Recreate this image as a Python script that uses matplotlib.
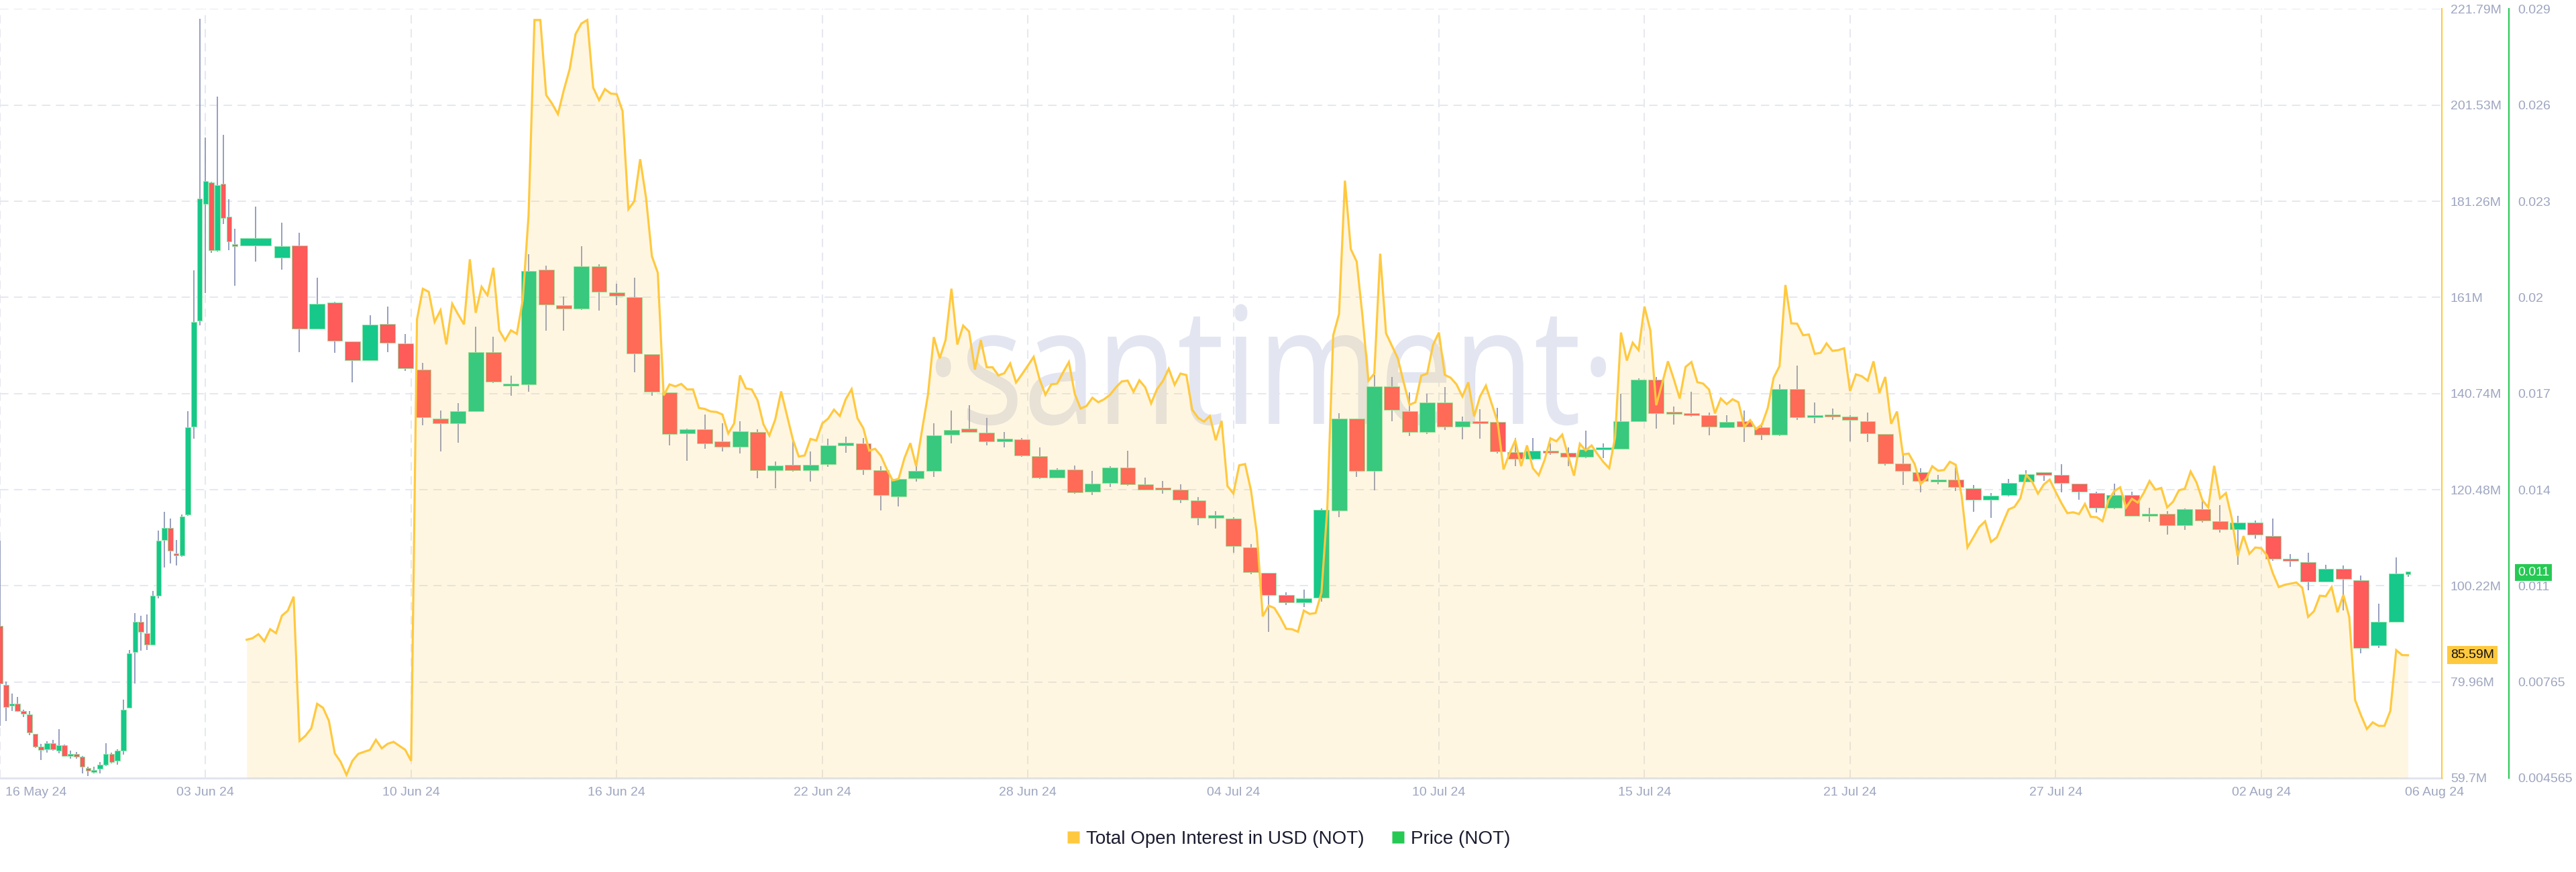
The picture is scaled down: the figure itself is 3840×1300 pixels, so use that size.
import numpy as np
import matplotlib
matplotlib.use("Agg")
import matplotlib.pyplot as plt
from matplotlib.font_manager import FontProperties
from matplotlib.lines import Line2D
from matplotlib.patches import PathPatch
from matplotlib.textpath import TextPath
from matplotlib.transforms import Affine2D, ScaledTranslation

plt.rcParams["font.family"] = ["Liberation Sans", "DejaVu Sans"]

# x axis = chart index of timestamps: one slot per 12h candle before the
# open interest feed starts, one slot per 4h OI point after it
x_ticks = np.arange(0, 386, 35)
x_labels = ["16 May 24", "03 Jun 24", "10 Jun 24", "16 Jun 24", "22 Jun 24", "28 Jun 24",
            "04 Jul 24", "10 Jul 24", "15 Jul 24", "21 Jul 24", "27 Jul 24", "02 Aug 24"]
x_end_slot = 414.5
x_end_label = "06 Aug 24"

oi_ticks = np.linspace(59.7, 221.79, 9)
oi_labels = ["59.7M", "79.96M", "100.22M", "120.48M", "140.74M", "161M", "181.26M", "201.53M", "221.79M"]
price_ticks = np.linspace(0.004565, 0.029, 9)
price_labels = ["0.004565", "0.00765", "0.011", "0.014", "0.017", "0.02", "0.023", "0.026", "0.029"]

# price candles (NOT)
candle_slot = np.concatenate([np.arange(41), [43.5], np.arange(48, 409, 3), [410]])
candle_span = np.concatenate([np.ones(41), [6], np.full(121, 3), [1]])

price_open = [
    0.009405, 0.007528, 0.006860, 0.006924, 0.006685, 0.006590, 0.005970, 0.005556, 0.005477, 0.005668,
    0.005429, 0.005604, 0.005270, 0.005286, 0.005238, 0.004888, 0.004761, 0.004856, 0.004984, 0.005334,
    0.005111, 0.005429, 0.006812, 0.008578, 0.009532, 0.009166, 0.008816, 0.010359, 0.012140, 0.012522,
    0.011695, 0.011631, 0.012936, 0.015735, 0.019091, 0.022797, 0.023497, 0.021334, 0.023449, 0.022399,
    0.021477, 0.021477,
    0.021095, 0.021493, 0.018837, 0.019679, 0.018439, 0.017834, 0.018995, 0.018375, 0.017548, 0.015990,
    0.015831, 0.016228, 0.018089, 0.017024, 0.017072, 0.020729, 0.019584, 0.019489, 0.020825, 0.019998,
    0.019855, 0.018025, 0.016817, 0.015513, 0.015640, 0.015258, 0.015099, 0.015560, 0.014336, 0.014511,
    0.014336, 0.014530, 0.015145, 0.015204, 0.014340, 0.013524, 0.014092, 0.014329, 0.015476, 0.015665,
    0.015547, 0.015263, 0.015322, 0.014790, 0.014116, 0.014364, 0.013655, 0.013950, 0.014423, 0.013903,
    0.013749, 0.013725, 0.013382, 0.012838, 0.012813, 0.011903, 0.011085, 0.010386, 0.010149, 0.010307,
    0.013076, 0.015990, 0.014316, 0.017006, 0.016228, 0.015555, 0.016505, 0.015727, 0.015898, 0.015872,
    0.014922, 0.014711, 0.014975, 0.014896, 0.014764, 0.015001, 0.015028, 0.015901, 0.017214, 0.016150,
    0.016126, 0.016091, 0.015712, 0.015901, 0.015700, 0.015476, 0.016918, 0.016020, 0.016103, 0.016044,
    0.015901, 0.015500, 0.014553, 0.014281, 0.013986, 0.014045, 0.013773, 0.013406, 0.013560, 0.013986,
    0.014229, 0.014202, 0.013910, 0.013628, 0.013145, 0.013564, 0.012890, 0.012954, 0.012589, 0.013118,
    0.012717, 0.012462, 0.012690, 0.012262, 0.011515, 0.011424, 0.010813, 0.011205, 0.010859, 0.008782,
    0.009520, 0.011050,
]
price_high = [
    0.012108, 0.007623, 0.007258, 0.007146, 0.006733, 0.006701, 0.005970, 0.005652, 0.005747, 0.005779,
    0.006113, 0.005620, 0.005429, 0.005397, 0.005270, 0.004920, 0.004920, 0.005079, 0.005668, 0.005365,
    0.005477, 0.007051, 0.008642, 0.009803, 0.009723, 0.009755, 0.010518, 0.012427, 0.013031, 0.012808,
    0.012140, 0.012936, 0.016212, 0.020697, 0.028698, 0.024912, 0.023513, 0.026217, 0.024992, 0.022956,
    0.022018, 0.022718,
    0.022209, 0.021890, 0.020459, 0.019695, 0.018439, 0.019266, 0.019552, 0.018677, 0.017755, 0.016244,
    0.016483, 0.018900, 0.018582, 0.017358, 0.021206, 0.020856, 0.019871, 0.021461, 0.020888, 0.020268,
    0.020459, 0.018025, 0.016817, 0.015672, 0.016117, 0.015831, 0.015894, 0.015640, 0.014623, 0.015354,
    0.014940, 0.015346, 0.015417, 0.015369, 0.014471, 0.014116, 0.014471, 0.015830, 0.016233, 0.016410,
    0.016008, 0.015559, 0.015369, 0.015062, 0.014412, 0.014494, 0.014329, 0.014471, 0.014967, 0.014116,
    0.013997, 0.013903, 0.013489, 0.013051, 0.012865, 0.012008, 0.011085, 0.010465, 0.010544, 0.013129,
    0.016162, 0.015990, 0.017375, 0.017309, 0.016821, 0.016768, 0.016979, 0.016056, 0.016294, 0.016320,
    0.015371, 0.015371, 0.015199, 0.015067, 0.015608, 0.015199, 0.016781, 0.017262, 0.017309, 0.016363,
    0.016836, 0.016174, 0.016091, 0.016245, 0.015842, 0.017072, 0.017664, 0.016505, 0.016316, 0.016091,
    0.016185, 0.015500, 0.014825, 0.014400, 0.014198, 0.014423, 0.013879, 0.013619, 0.014069, 0.014352,
    0.014256, 0.014529, 0.013910, 0.013655, 0.013928, 0.013664, 0.013145, 0.013036, 0.013127, 0.013364,
    0.013236, 0.012890, 0.012744, 0.012817, 0.011688, 0.011724, 0.011342, 0.011314, 0.010996, 0.010103,
    0.011569, 0.011096,
]
price_low = [
    0.006224, 0.006383, 0.006701, 0.006669, 0.006510, 0.005938, 0.005525, 0.005143, 0.005381, 0.005429,
    0.005350, 0.005238, 0.005191, 0.005191, 0.004713, 0.004634, 0.004713, 0.004713, 0.004952, 0.005032,
    0.004984, 0.005302, 0.006781, 0.007576, 0.008610, 0.008642, 0.008801, 0.010280, 0.011266, 0.011377,
    0.011313, 0.011600, 0.012904, 0.015353, 0.018947, 0.019982, 0.021254, 0.021302, 0.022161, 0.021334,
    0.020205, 0.020968,
    0.020729, 0.018089, 0.018837, 0.018073, 0.017135, 0.017834, 0.018089, 0.017500, 0.015767, 0.014940,
    0.015226, 0.016197, 0.017119, 0.016722, 0.016849, 0.018789, 0.018789, 0.019441, 0.019425, 0.019584,
    0.017453, 0.016722, 0.015131, 0.014654, 0.015035, 0.014940, 0.014876, 0.014097, 0.013779, 0.014304,
    0.013986, 0.014447, 0.014896, 0.014198, 0.013075, 0.013193, 0.013974, 0.014139, 0.015204, 0.015535,
    0.015145, 0.015062, 0.014778, 0.014069, 0.014092, 0.013595, 0.013548, 0.013808, 0.013856, 0.013714,
    0.013607, 0.013312, 0.012602, 0.012484, 0.011731, 0.011045, 0.009200, 0.010070, 0.009991, 0.010175,
    0.012865, 0.014131, 0.013709, 0.015898, 0.015423, 0.015502, 0.015634, 0.015318, 0.015344, 0.014869,
    0.014474, 0.014672, 0.014843, 0.014474, 0.014738, 0.014738, 0.015001, 0.015890, 0.015677, 0.015795,
    0.016056, 0.015464, 0.015700, 0.015251, 0.015299, 0.015440, 0.015949, 0.015842, 0.015937, 0.015263,
    0.015251, 0.014494, 0.013879, 0.013643, 0.013903, 0.013690, 0.013016, 0.012838, 0.013524, 0.013962,
    0.014001, 0.013637, 0.013409, 0.012999, 0.013118, 0.012872, 0.012708, 0.012298, 0.012453, 0.012690,
    0.012362, 0.011342, 0.012180, 0.011460, 0.011269, 0.010522, 0.010795, 0.009903, 0.008536, 0.008700,
    0.009520, 0.010959,
]
price_close = [
    0.007576, 0.006828, 0.006939, 0.006701, 0.006621, 0.006017, 0.005572, 0.005461, 0.005683, 0.005477,
    0.005604, 0.005270, 0.005302, 0.005254, 0.004920, 0.004793, 0.004825, 0.004984, 0.005334, 0.005079,
    0.005429, 0.006733, 0.008530, 0.009532, 0.009214, 0.008801, 0.010359, 0.012108, 0.012522, 0.011790,
    0.011631, 0.012872, 0.015719, 0.019059, 0.022971, 0.023528, 0.021334, 0.023401, 0.022368, 0.021604,
    0.021461, 0.021716,
    0.021461, 0.018853, 0.019632, 0.018455, 0.017834, 0.018963, 0.018391, 0.017580, 0.016022, 0.015831,
    0.016213, 0.018105, 0.017151, 0.017072, 0.020682, 0.019600, 0.019473, 0.020825, 0.020014, 0.019886,
    0.018057, 0.016833, 0.015497, 0.015640, 0.015195, 0.015083, 0.015576, 0.014336, 0.014495, 0.014352,
    0.014511, 0.015145, 0.015192, 0.014376, 0.013548, 0.014080, 0.014317, 0.015464, 0.015618, 0.015559,
    0.015263, 0.015346, 0.014825, 0.014116, 0.014376, 0.013643, 0.013927, 0.014423, 0.013903, 0.013737,
    0.013725, 0.013406, 0.012838, 0.012862, 0.011929, 0.011111, 0.010386, 0.010149, 0.010280, 0.013089,
    0.015990, 0.014316, 0.017019, 0.016267, 0.015555, 0.016491, 0.015727, 0.015898, 0.015832, 0.014949,
    0.014711, 0.014975, 0.014896, 0.014764, 0.015001, 0.015028, 0.015898, 0.017226, 0.016162, 0.016126,
    0.016091, 0.015724, 0.015878, 0.015724, 0.015476, 0.016930, 0.016020, 0.016103, 0.016044, 0.015937,
    0.015523, 0.014565, 0.014317, 0.013997, 0.014057, 0.013808, 0.013406, 0.013536, 0.013950, 0.014222,
    0.014202, 0.013937, 0.013655, 0.013145, 0.013564, 0.012890, 0.012963, 0.012589, 0.013118, 0.012753,
    0.012462, 0.012690, 0.012307, 0.011524, 0.011460, 0.010813, 0.011223, 0.010886, 0.008700, 0.009520,
    0.011059, 0.011096,
]

# total open interest in USD, millions, 4h points
oi_slot = np.arange(42, 411)
oi_musd = [
    88.86, 89.18, 90.03, 88.55, 91.08, 90.24, 93.93, 94.98, 97.94, 67.55,
    68.61, 70.19, 75.36, 74.52, 71.78, 64.92, 63.12, 60.38, 63.33, 64.81,
    65.23, 65.66, 67.77, 65.97, 66.92, 67.34, 66.50, 65.66, 63.33, 156.38,
    162.82, 162.18, 155.85, 158.28, 151.10, 159.65, 157.43, 155.32, 169.04, 157.75,
    163.24, 161.45, 167.25, 154.06, 151.95, 154.06, 153.32, 160.39, 178.32, 219.47,
    219.47, 203.64, 201.85, 199.63, 204.70, 209.13, 216.51, 218.73, 219.47, 205.22,
    202.59, 204.91, 203.96, 203.85, 200.27, 179.59, 181.28, 190.14, 182.02, 169.67,
    166.19, 140.35, 142.67, 142.25, 142.77, 141.61, 141.61, 137.71, 137.50, 136.97,
    136.86, 136.33, 132.33, 134.44, 144.57, 141.82, 141.61, 139.29, 134.23, 131.91,
    135.28, 141.19, 136.12, 131.06, 127.47, 127.69, 131.17, 130.85, 134.44, 135.46,
    137.34, 136.01, 139.54, 141.66, 135.54, 133.42, 128.71, 129.10, 127.61, 124.79,
    122.44, 122.75, 127.14, 130.28, 125.42, 133.10, 140.48, 152.64, 148.17, 152.01,
    162.84, 151.07, 155.07, 153.81, 145.81, 152.01, 146.28, 146.28, 144.56, 145.03,
    147.07, 143.07, 144.79, 146.60, 148.48, 143.77, 140.48, 142.68, 142.83, 145.19,
    147.38, 140.64, 137.58, 138.13, 139.85, 138.91, 139.54, 140.48, 142.05, 143.30,
    143.46, 141.11, 143.54, 142.05, 138.67, 141.66, 143.38, 145.97, 142.60, 144.95,
    144.64, 137.34, 135.62, 134.83, 136.01, 130.91, 134.99, 121.24, 119.67, 125.62,
    125.88, 120.37, 111.27, 93.78, 96.05, 95.53, 93.52, 91.16, 91.07, 90.55,
    95.01, 94.30, 94.48, 98.77, 116.70, 152.99, 157.54, 185.61, 171.18, 168.56,
    156.93, 143.46, 144.95, 170.22, 153.43, 150.80, 148.18, 143.11, 138.38, 138.91,
    144.51, 144.95, 150.98, 153.60, 144.68, 144.07, 142.67, 140.13, 143.11, 135.94,
    140.13, 142.41, 138.56, 134.71, 124.74, 128.06, 130.86, 125.44, 129.81, 125.00,
    123.52, 126.75, 131.30, 130.69, 132.09, 127.63, 123.43, 130.16, 128.76, 129.81,
    127.98, 126.32, 125.00, 131.50, 153.60, 147.70, 151.46, 149.89, 159.07, 154.05,
    138.28, 142.83, 147.54, 143.77, 139.69, 146.36, 147.38, 143.15, 142.83, 141.58,
    136.56, 139.69, 138.52, 139.54, 138.91, 133.73, 135.14, 133.26, 134.20, 137.73,
    144.09, 146.52, 163.62, 155.54, 155.46, 153.03, 153.19, 149.11, 149.34, 151.30,
    149.74, 149.89, 150.28, 141.26, 144.79, 144.40, 143.46, 147.54, 140.87, 144.24,
    134.36, 136.95, 127.93, 128.08, 125.89, 121.65, 122.83, 125.42, 124.48, 124.63,
    126.36, 125.73, 119.30, 108.32, 110.43, 112.63, 113.81, 109.49, 110.43, 113.41,
    116.32, 116.85, 118.67, 123.60, 122.18, 119.65, 121.58, 122.61, 120.07, 117.65,
    115.54, 115.72, 115.36, 117.47, 114.75, 114.69, 113.85, 118.26, 120.19, 120.98,
    116.75, 118.56, 117.77, 119.77, 122.31, 120.49, 120.85, 116.75, 117.95, 120.37,
    120.67, 124.30, 122.00, 118.26, 116.75, 125.51, 118.68, 119.77, 114.45, 106.47,
    110.71, 106.96, 108.29, 108.17, 106.60, 102.85, 99.95, 100.44, 100.68, 100.92,
    99.83, 93.67, 94.88, 98.14, 98.02, 99.95, 94.64, 98.32, 93.67, 76.15,
    72.95, 70.05, 71.44, 70.71, 70.71, 73.85, 86.66, 85.63, 85.59,
]
assert len(oi_musd) == len(oi_slot)
assert len(price_open) == len(candle_slot) == len(price_close) == len(price_high) == len(price_low)

OI_COL = "#ffc93f"
PRICE_COL = "#26c953"
UP_COL = "#16c88a"
DOWN_COL = "#ff5b5b"
WICK_COL = "#8e96ba"
TICK_COL = "#9ea6c0"
GRID_COL = "#e6e8f1"

fig = plt.figure(figsize=(38.4, 13), dpi=100)
ax = fig.add_axes([0, 0.1077, 0.9479, 0.882])
ax2 = ax.twinx()

ax.set_xlim(0, 415.76)
ax.set_ylim(0.004565, 0.029)
ax2.set_ylim(59.7, 221.79)

# watermark
fp = FontProperties(family="Open Sans")
wm = TextPath((0, 0), "\u00b7santiment\u00b7", size=1, prop=fp)
ext = wm.get_extents()
xh = TextPath((0, 0), "x", size=1, prop=fp).get_extents().height
wm_left, wm_right, wm_base, wm_xh = 0.3832, 0.6577, 0.4605, 0.1134
wm_tr = (Affine2D().translate(-ext.x0, 0)
         .scale((wm_right - wm_left) / ext.width, wm_xh / xh)
         .translate(wm_left, wm_base) + ax.transAxes)
ax.add_patch(PathPatch(wm, transform=wm_tr, facecolor="#e3e6f1", edgecolor="none", zorder=1.5))

# candles
o = np.array(price_open)
c = np.array(price_close)
up = c >= o
ax.vlines(candle_slot, price_low, price_high, color=WICK_COL, lw=1.3, zorder=2)
ax.bar(candle_slot, np.maximum(np.abs(c - o), 0.00007), width=candle_span * 0.87,
       bottom=np.minimum(o, c), color=np.where(up, UP_COL, DOWN_COL),
       edgecolor="#8fe3a6", linewidth=0.7, zorder=3)

# open interest
ax2.fill_between(oi_slot, oi_musd, 59.7, color=OI_COL, alpha=0.15, lw=0, zorder=1)
ax2.plot(oi_slot, oi_musd, color=OI_COL, lw=2.3, zorder=2, solid_joinstyle="miter")

# grid + axes styling
ax.set_axisbelow(True)
ax.grid(True, which="major", color=GRID_COL, lw=1.5, linestyle=(0, (6, 4)))
for s in ["top", "left"]:
    ax.spines[s].set_visible(False)
ax.spines["bottom"].set_color("#e1e4ee")
ax.spines["bottom"].set_linewidth(2)
ax.spines["right"].set_position(("outward", 72))
ax.spines["right"].set_color(PRICE_COL)
ax.spines["right"].set_linewidth(1.5)
for s in ["top", "left", "bottom"]:
    ax2.spines[s].set_visible(False)
ax2.spines["right"].set_color(OI_COL)
ax2.spines["right"].set_linewidth(1.5)

ax.set_xticks(x_ticks, labels=x_labels)
ax.set_xticks([x_end_slot], labels=[x_end_label], minor=True)
ax.tick_params(axis="x", which="both", length=0, pad=9.4, labelsize=14, labelcolor=TICK_COL)
first = ax.get_xticklabels()[0]
first.set_horizontalalignment("left")
first.set_transform(first.get_transform() + ScaledTranslation(0.08, 0, fig.dpi_scale_trans))

ax.yaxis.tick_right()
ax.set_yticks(price_ticks, labels=price_labels)
ax.tick_params(axis="y", length=0, pad=9.4, labelsize=14, labelcolor=TICK_COL)
ax2.set_yticks(oi_ticks, labels=oi_labels)
ax2.tick_params(axis="y", length=0, pad=9.4, labelsize=14, labelcolor=TICK_COL)

# current value tags
ax.annotate(f"{price_close[-1]:.3f}", xy=(1, price_close[-1]), xycoords=("axes fraction", "data"),
            xytext=(81.4, 0), textcoords="offset points", ha="left", va="center",
            fontsize=14, color="white", annotation_clip=False, zorder=10,
            bbox=dict(boxstyle="square,pad=0.2", fc=PRICE_COL, ec="none"))
ax2.annotate(f"{oi_musd[-1]:.2f}M", xy=(1, oi_musd[-1]), xycoords=("axes fraction", "data"),
             xytext=(9.4, 0), textcoords="offset points", ha="left", va="center",
             fontsize=14, color="#111111", annotation_clip=False, zorder=10,
             bbox=dict(boxstyle="square,pad=0.25", fc=OI_COL, ec="none"))

handles = [Line2D([], [], ls="none", marker="s", ms=12.5, mfc=OI_COL, mec="none"),
           Line2D([], [], ls="none", marker="s", ms=12.5, mfc=PRICE_COL, mec="none")]
fig.legend(handles, ["Total Open Interest in USD (NOT)", "Price (NOT)"], loc="center",
           bbox_to_anchor=(0.5, 0.0377), ncol=2, frameon=False, fontsize=20,
           handletextpad=0.3, columnspacing=1.4, handlelength=0.8, labelcolor="#1b1c2e")

fig.savefig("out.png", dpi=100)
